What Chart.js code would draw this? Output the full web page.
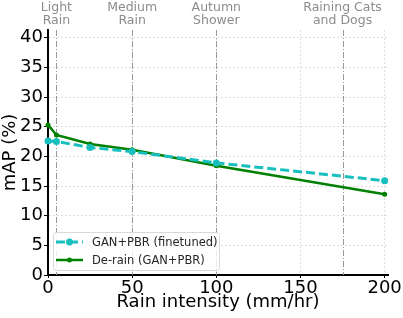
<!DOCTYPE html>
<html>
<head>
<meta charset="utf-8">
<script src="https://cdn.jsdelivr.net/npm/chart.js@4.4.0/dist/chart.umd.min.js"></script>
<style>
  html, body { margin: 0; padding: 0; background: #fff; }
  #wrap { width: 403px; height: 318px; }
</style>
</head>
<body>
<div id="wrap"><canvas id="grafico" width="403" height="318"></canvas></div>
<script>
// Datos del gráfico
const intensidadLluvia = [0, 5, 25, 50, 100, 200];
const ganPbrFinetuned = [22.6, 22.5, 21.5, 20.8, 18.9, 15.9];
const deRainGanPbr = [25.3, 23.6, 22.1, 21.1, 18.4, 13.6];

// Regímenes de lluvia (líneas verticales y etiquetas arriba)
const posicionesRegimen = [5, 50, 100, 175];
const etiquetasRegimen = [['Light', 'Rain'], ['Medium', 'Rain'], ['Autumn', 'Shower'], ['Raining Cats', 'and Dogs']];

const ticksY = [0, 5, 10, 15, 20, 25, 30, 35, 40];
const ticksX = [0, 50, 100, 150, 200];

const FUENTE = 'DejaVu Sans';

// Plugin: líneas verticales de régimen + etiquetas
const pluginRegimen = {
    id: 'regimen',
    beforeDatasetsDraw(chart) {
        const { ctx, chartArea, scales } = chart;
        ctx.save();
        ctx.strokeStyle = '#999';
        ctx.lineWidth = 1;
        ctx.setLineDash([6, 2, 1, 2]);
        posicionesRegimen.forEach(v => {
            const x = Math.round(scales.x.getPixelForValue(v)) + 0.5;
            ctx.beginPath();
            ctx.moveTo(x, chartArea.top);
            ctx.lineTo(x, chartArea.bottom);
            ctx.stroke();
        });
        ctx.restore();
    },
    afterDraw(chart) {
        const { ctx, scales } = chart;
        ctx.save();
        ctx.fillStyle = '#8c8c8c';
        ctx.font = '12.5px "' + FUENTE + '"';
        ctx.textAlign = 'center';
        ctx.textBaseline = 'middle';
        posicionesRegimen.forEach((v, i) => {
            const x = scales.x.getPixelForValue(v);
            ctx.fillText(etiquetasRegimen[i][0], x, 8);
            ctx.fillText(etiquetasRegimen[i][1], x, 21);
        });
        ctx.restore();
    }
};

// Plugin: leyenda dentro del área del gráfico (abajo a la izquierda)
const pluginLeyenda = {
    id: 'leyendaInterna',
    afterDraw(chart) {
        const { ctx, chartArea } = chart;
        const x0 = chartArea.left + 5;
        const y0 = chartArea.bottom - 43;
        const w = 166, h = 38;
        ctx.save();
        ctx.fillStyle = 'rgba(255,255,255,0.8)';
        ctx.strokeStyle = '#d9d9d9';
        ctx.lineWidth = 1;
        ctx.beginPath();
        ctx.roundRect(x0 + 0.5, y0 + 0.5, w, h, 3);
        ctx.fill();
        ctx.stroke();

        chart.data.datasets.forEach((ds, i) => {
            const y = y0 + 10 + i * 18;
            ctx.strokeStyle = ds.borderColor;
            ctx.lineWidth = ds.borderWidth;
            ctx.setLineDash(ds.borderDash || []);
            ctx.beginPath();
            ctx.moveTo(x0 + 3, y);
            ctx.lineTo(x0 + 30, y);
            ctx.stroke();
            ctx.setLineDash([]);
            ctx.fillStyle = ds.borderColor;
            ctx.beginPath();
            ctx.arc(x0 + 16.5, y, ds.pointRadius, 0, Math.PI * 2);
            ctx.fill();
            ctx.fillStyle = '#262626';
            ctx.font = '11.5px "' + FUENTE + '"';
            ctx.textAlign = 'left';
            ctx.textBaseline = 'middle';
            ctx.fillText(ds.label, x0 + 39, y + 1);
        });
        ctx.restore();
    }
};

const ctx = document.getElementById('grafico').getContext('2d');
new Chart(ctx, {
    type: 'line',
    data: {
        datasets: [{
            label: 'GAN+PBR (finetuned)',
            data: intensidadLluvia.map((x, i) => ({ x: x, y: ganPbrFinetuned[i] })),
            borderColor: '#17bfbf',
            backgroundColor: '#17bfbf',
            borderWidth: 3,
            borderDash: [9, 4],
            pointRadius: 3.5,
            pointBorderWidth: 0,
            tension: 0,
            clip: false
        }, {
            label: 'De-rain (GAN+PBR)',
            data: intensidadLluvia.map((x, i) => ({ x: x, y: deRainGanPbr[i] })),
            borderColor: '#008000',
            backgroundColor: '#008000',
            borderWidth: 2.5,
            pointRadius: 2.5,
            pointBorderWidth: 0,
            tension: 0,
            clip: false
        }]
    },
    options: {
        responsive: false,
        animation: false,
        layout: { padding: { top: 30, right: 15, left: 0, bottom: 0 } },
        plugins: {
            legend: { display: false },
            tooltip: { enabled: false }
        },
        scales: {
            x: {
                type: 'linear',
                min: 0,
                max: 202,
                afterFit: s => { s.height = 43; },
                afterBuildTicks: s => { s.ticks = ticksX.map(v => ({ value: v })); },
                ticks: { font: { family: FUENTE, size: 18 }, color: '#000', padding: 0, includeBounds: false, maxRotation: 0 },
                grid: { color: 'rgba(0,0,0,0.13)', tickColor: '#000', tickLength: 3, tickBorderDash: [] },
                border: { color: '#000', width: 2, dash: [2, 2] },
                title: { display: true, text: 'Rain intensity (mm/hr)', font: { family: FUENTE, size: 18 }, color: '#000', padding: { top: 0, bottom: 5 } }
            },
            y: {
                min: 0,
                max: 41.3,
                afterFit: s => { s.width = 48; },
                afterBuildTicks: s => { s.ticks = ticksY.map(v => ({ value: v })); },
                ticks: { font: { family: FUENTE, size: 18 }, color: '#000', padding: 1, includeBounds: false },
                grid: { color: 'rgba(0,0,0,0.13)', tickColor: '#000', tickLength: 4, tickBorderDash: [] },
                border: { color: '#000', width: 2, dash: [2, 2] },
                title: { display: true, text: 'mAP (%)', font: { family: FUENTE, size: 18 }, color: '#000', padding: { top: 0, bottom: 0 } }
            }
        }
    },
    plugins: [pluginRegimen, pluginLeyenda]
});
</script>
</body>
</html>
